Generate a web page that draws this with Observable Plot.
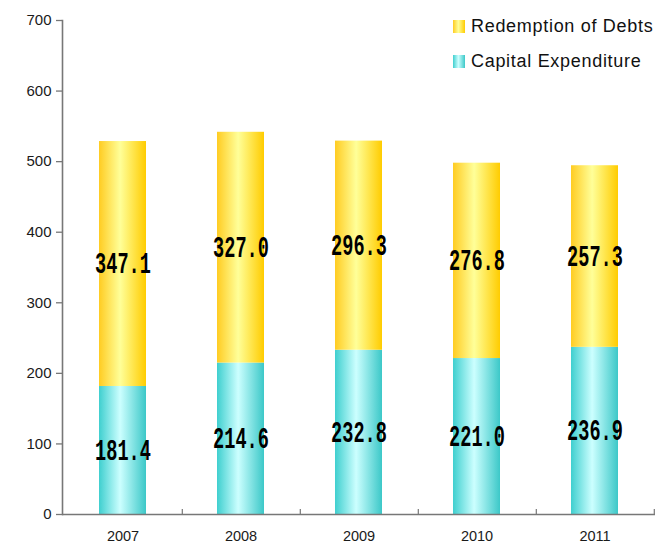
<!DOCTYPE html>
<html>
<head>
<meta charset="utf-8">
<script src="https://cdn.jsdelivr.net/npm/d3@7"></script>
<script src="https://cdn.jsdelivr.net/npm/@observablehq/plot@0.6"></script>
<style>
  html, body { margin: 0; padding: 0; background: #fff; }
  #wrap { position: relative; width: 660px; height: 544px; font-family: "Liberation Sans", Arial, sans-serif; }
  #legend { position: absolute; left: 453px; top: 9px; font-size: 18px; letter-spacing: 0.7px; color: #111; }
  .item { display: flex; align-items: center; height: 35px; white-space: nowrap; }
  .sw { width: 12px; height: 13px; margin-right: 6px; }
  .sw.y { background: linear-gradient(to right, #ffcc22, #ffff99 45%, #ffcc00); }
  .sw.c { background: linear-gradient(to right, #3fcfcf, #ccffff 45%, #3cc8c8); }
</style>
</head>
<body>
<div id="wrap">
  <div id="chart"></div>
  <div id="legend">
    <div class="item"><div class="sw y"></div>Redemption of Debts</div>
    <div class="item"><div class="sw c"></div>Capital Expenditure</div>
  </div>
</div>
<script>
const years = ["2007", "2008", "2009", "2010", "2011"];
const capitalExpenditure = [181.4, 214.6, 232.8, 221.0, 236.9];
const redemptionOfDebts = [347.1, 327.0, 296.3, 276.8, 257.3];
const yTicks = [0, 100, 200, 300, 400, 500, 600, 700];
const seriesNames = ["Capital Expenditure", "Redemption of Debts"];

const rows = [];
years.forEach((y, i) => rows.push({year: y, series: seriesNames[0], value: capitalExpenditure[i]}));
years.forEach((y, i) => rows.push({year: y, series: seriesNames[1], value: redemptionOfDebts[i]}));

const W = 660, H = 544, mL = 62, mR = 5, mT = 20, mB = 30;
const step = (W - mL - mR) / years.length;
const pxPerUnit = (H - mT - mB) / 700;
const axisColor = "#777777";

const fillFor = {"Capital Expenditure": "url(#gradC)", "Redemption of Debts": "url(#gradY)"};

const plot = Plot.plot({
  width: W, height: H,
  marginLeft: mL, marginRight: mR, marginTop: mT, marginBottom: mB,
  style: {fontFamily: "Liberation Sans, Arial, sans-serif", fontSize: "15px", color: "#1a1a1a", background: "#fff"},
  x: {domain: years, paddingInner: 0.6, paddingOuter: 0.3, label: null},
  y: {domain: [0, 700], label: null},
  marks: [
    Plot.barY(rows, Plot.stackY({x: "year", y: "value", z: "series", fill: d => fillFor[d.series], order: null})),
    Plot.axisY({ticks: yTicks, tickSize: 6, tickPadding: 5, stroke: axisColor, strokeWidth: 1.3, fontSize: 15, label: null}),
    Plot.axisX({tickSize: 0, tickPadding: 16, fontSize: 14.5, label: null}),
    Plot.ruleY([0], {stroke: axisColor, strokeWidth: 1.6}),
    Plot.frame({anchor: "left", stroke: axisColor, strokeWidth: 1.6}),
    Plot.ruleX(years, {x: d => d, dx: step / 2, y1: 0, y2: 5 / pxPerUnit, stroke: axisColor, strokeWidth: 1.2}),
    Plot.text(rows, Plot.stackY({x: "year", y: "value", z: "series", text: d => d.value.toFixed(1), order: null,
      fontFamily: "Liberation Mono, monospace", fontWeight: "bold", fontSize: 18.6, fill: "#000", className: "seglabel"}))
  ]
});

// gradient definitions
const defs = d3.select(plot).insert("defs", ":first-child");
function grad(id, c0, c1, c2) {
  const g = defs.append("linearGradient").attr("id", id).attr("x1", "0").attr("x2", "1").attr("y1", "0").attr("y2", "0");
  g.append("stop").attr("offset", "0%").attr("stop-color", c0);
  g.append("stop").attr("offset", "45%").attr("stop-color", c1);
  g.append("stop").attr("offset", "100%").attr("stop-color", c2);
}
grad("gradY", "#ffcc22", "#ffff99", "#ffcc00");
grad("gradC", "#3fcfcf", "#ccffff", "#3cc8c8");

// stretch segment labels vertically (tall condensed look)
d3.select(plot).selectAll(".seglabel text").each(function() {
  const t = d3.select(this);
  let tr = t.attr("transform");
  if (!tr) {
    const x = +t.attr("x") || 0, y = +t.attr("y") || 0;
    t.attr("x", null).attr("y", null);
    tr = `translate(${x},${y})`;
  }
  t.attr("transform", tr + " scale(1,1.55)");
});

document.getElementById("chart").appendChild(plot);
</script>
</body>
</html>
